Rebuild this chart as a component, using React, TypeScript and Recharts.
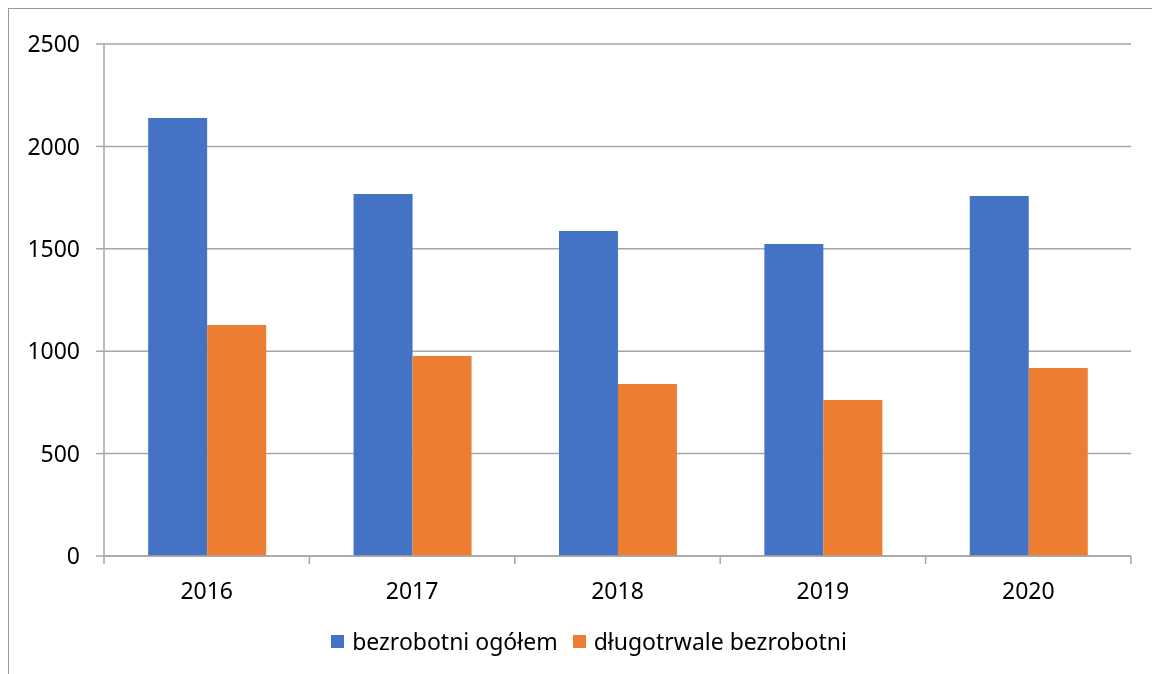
import { BarChart, Bar, XAxis, YAxis, CartesianGrid, Legend } from 'recharts';

const years = ['2016', '2017', '2018', '2019', '2020'];
const ogolem = [2139, 1768, 1587, 1523, 1758];
const dlugotrwale = [1128, 977, 840, 762, 918];
const yTicks = [0, 500, 1000, 1500, 2000, 2500];

const seriesNames = ['bezrobotni ogółem', 'długotrwale bezrobotni'];
const seriesColors = ['#4472C4', '#ED7D31'];

const data = years.map((year, i) => ({
  year,
  ogolem: ogolem[i],
  dlugotrwale: dlugotrwale[i],
}));

const W = 1143;
const H = 665;
const MARGIN = { top: 35, right: 21, left: 0, bottom: 18 };
const Y_WIDTH = 95;
const PLOT_W = W - MARGIN.left - MARGIN.right - Y_WIDTH;
const BAND = PLOT_W / years.length;
const FONT = '"Noto Sans", sans-serif';
const GRID = '#a6a6a6';
const FS = 23;

function XTick(props: any) {
  const { x, y, payload, index } = props;
  const left = x - BAND / 2;
  const right = x + BAND / 2;
  return (
    <g>
      <line x1={left} y1={y} x2={left} y2={y + 8} stroke={GRID} strokeWidth={1.5} />
      {index === years.length - 1 && (
        <line x1={right} y1={y} x2={right} y2={y + 8} stroke={GRID} strokeWidth={1.5} />
      )}
      <text x={x} y={y + 43} textAnchor="middle" fontSize={FS} fontFamily={FONT} fill="#000">
        {payload.value}
      </text>
    </g>
  );
}

function LegendContent() {
  return (
    <div
      style={{
        display: 'flex',
        justifyContent: 'center',
        alignItems: 'center',
        height: 30,
        fontFamily: FONT,
        fontSize: FS,
        color: '#000',
        paddingLeft: 38,
      }}
    >
      {seriesNames.map((name, i) => (
        <div key={name} style={{ display: 'flex', alignItems: 'center', marginRight: i === 0 ? 15 : 0 }}>
          <span
            style={{
              display: 'inline-block',
              width: 13,
              height: 13,
              background: seriesColors[i],
              marginRight: 8,
            }}
          />
          <span>{name}</span>
        </div>
      ))}
    </div>
  );
}

export default function App() {
  return (
    <div style={{ width: W, height: H, marginLeft: 1, marginTop: 1, marginBottom: -8, background: '#fff' }}>
      <div
        style={{
          position: 'fixed',
          top: 8,
          left: 8,
          right: -20,
          bottom: -20,
          borderLeft: '1px solid #999',
          borderTop: '1px solid #999',
          pointerEvents: 'none',
        }}
      />
      <BarChart width={W} height={H} data={data} margin={MARGIN} barCategoryGap="21.5%" barGap={0}>
        <CartesianGrid vertical={false} stroke={GRID} strokeWidth={1.5} />
        <XAxis
          dataKey="year"
          axisLine={{ stroke: GRID, strokeWidth: 1.5 }}
          tickLine={false}
          tickSize={0}
          tickMargin={0}
          tick={<XTick />}
          height={70}
          interval={0}
        />
        <YAxis
          domain={[0, 2500]}
          ticks={yTicks}
          width={Y_WIDTH}
          axisLine={{ stroke: GRID, strokeWidth: 1.5 }}
          tickLine={{ stroke: GRID, strokeWidth: 1.5 }}
          tickSize={8}
          tickMargin={16}
          tick={{ fontSize: FS, fontFamily: FONT, fill: '#000' }}
        />
        <Legend content={<LegendContent />} verticalAlign="bottom" height={30} />
        <Bar dataKey="ogolem" name={seriesNames[0]} fill={seriesColors[0]} isAnimationActive={false} />
        <Bar dataKey="dlugotrwale" name={seriesNames[1]} fill={seriesColors[1]} isAnimationActive={false} />
      </BarChart>
    </div>
  );
}
